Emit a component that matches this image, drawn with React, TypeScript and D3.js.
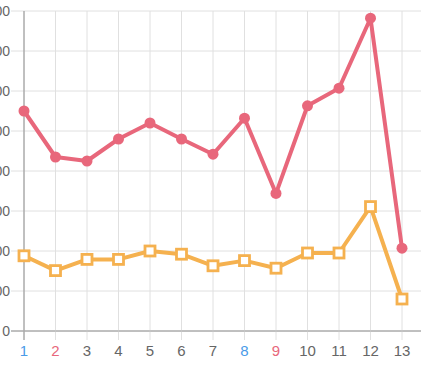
import React from 'react';
import * as d3 from 'd3';

const categories = [1, 2, 3, 4, 5, 6, 7, 8, 9, 10, 11, 12, 13];
const redSeries = [550, 435, 425, 480, 520, 480, 442, 532, 344, 563, 607, 782, 207];
const orangeSeries = [188, 151, 179, 179, 200, 192, 163, 176, 157, 195, 195, 311, 80];
const yTicks = [0, 100, 200, 300, 400, 500, 600, 700, 800];
const labelColors = ['#4a9be8', '#e8677b', '#666', '#666', '#666', '#666', '#666', '#4a9be8', '#e8677b', '#666', '#666', '#666', '#666'];

const W = 421;
const H = 365;
const RED = '#e8677b';
const ORANGE = '#f5b14f';

const App = () => {
  const x = d3.scaleLinear().domain([1, 13]).range([24, 402]);
  const y = d3.scaleLinear().domain([0, 800]).range([331, 11]);

  const line = d3.line<number>()
    .x((_, i) => x(categories[i]))
    .y(d => y(d));

  return (
    <svg width={W} height={H} style={{ position: 'absolute', left: 0, top: 0, fontFamily: 'Arial, "Liberation Sans", sans-serif' }}>
      <rect width={W} height={H} fill="#fff" />
      {/* horizontal grid */}
      {yTicks.map(t => (
        <g key={'y' + t}>
          <line x1={11} x2={W} y1={y(t)} y2={y(t)} stroke={t === 0 ? '#aaa' : '#e0e0e0'} strokeWidth={1} />
          <text x={10} y={y(t)} dy="0.35em" textAnchor="end" fill="#666" fontSize={14}>{t}</text>
        </g>
      ))}
      {/* vertical grid */}
      {categories.map((c, i) => (
        <g key={'x' + c}>
          <line x1={x(c)} x2={x(c)} y1={y(800)} y2={340} stroke={i === 0 ? '#aaa' : '#e0e0e0'} strokeWidth={1} />
          <text x={x(c)} y={356} textAnchor="middle" fill={labelColors[i]} fontSize={15}>{c}</text>
        </g>
      ))}
      <line x1={11} x2={W} y1={y(0)} y2={y(0)} stroke="#aaa" />
      <line x1={x(1)} x2={x(1)} y1={y(800)} y2={340} stroke="#aaa" />

      {/* orange series */}
      <path d={line(orangeSeries) || ''} fill="none" stroke={ORANGE} strokeWidth={4} strokeLinejoin="round" />
      {orangeSeries.map((v, i) => (
        <rect key={'o' + i} x={x(categories[i]) - 5} y={y(v) - 5} width={10} height={10}
          fill="#fff" stroke={ORANGE} strokeWidth={2.8} />
      ))}

      {/* red series */}
      <path d={line(redSeries) || ''} fill="none" stroke={RED} strokeWidth={4} strokeLinejoin="round" />
      {redSeries.map((v, i) => (
        <circle key={'r' + i} cx={x(categories[i])} cy={y(v)} r={5.5} fill={RED} />
      ))}
    </svg>
  );
};

export default App;
